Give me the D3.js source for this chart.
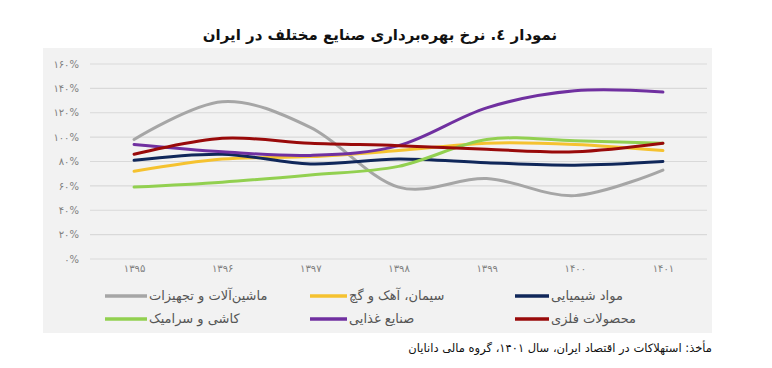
<!DOCTYPE html>
<html>
<head>
<meta charset="utf-8">
<script src="https://cdn.jsdelivr.net/npm/d3@7"></script>
<style>
  html, body { margin: 0; padding: 0; background: #ffffff; }
  svg { display: block; font-family: "DejaVu Sans", "Noto Sans", sans-serif; }
</style>
</head>
<body>
<svg id="chart" width="772" height="368"></svg>
<script>
const years = ["1395", "1396", "1397", "1398", "1399", "1400", "1401"];
const yearLabels = ["۱۳۹۵", "۱۳۹۶", "۱۳۹۷", "۱۳۹۸", "۱۳۹۹", "۱۴۰۰", "۱۴۰۱"];
const yTicks = [0, 20, 40, 60, 80, 100, 120, 140, 160];
const yTickLabels = ["۰%", "۲۰%", "۴۰%", "۶۰%", "۸۰%", "۱۰۰%", "۱۲۰%", "۱۴۰%", "۱۶۰%"];

const seriesNames = ["ماشین‌آلات و تجهیزات", "سیمان، آهک و گچ", "مواد شیمیایی", "کاشی و سرامیک", "صنایع غذایی", "محصولات فلزی"];
const seriesColors = ["#a6a6a6", "#f5c230", "#10275a", "#92d050", "#7030a0", "#990a0a"];

const machinery = [98, 129, 108, 59, 66, 52, 73];
const cement    = [72, 82, 84, 89, 95, 94, 89];
const chemicals = [81, 86, 78, 82, 79, 77, 80];
const ceramic   = [59, 63, 69, 76, 98, 97, 95];
const food      = [94, 88, 85, 93, 124, 138, 137];
const metal     = [86, 99, 95, 93, 90, 88, 95];

const seriesValues = [machinery, cement, chemicals, ceramic, food, metal];

const title = "نمودار ٤. نرخ بهره‌برداری صنایع مختلف در ایران";
const source = "مأخذ: استهلاکات در اقتصاد ایران، سال ۱۴۰۱، گروه مالی دانایان";

const svg = d3.select("#chart");

// panel background
svg.append("rect").attr("x", 43).attr("y", 48).attr("width", 669).attr("height", 285).attr("fill", "#f2f2f2");

// title
svg.append("text").attr("x", 380).attr("y", 40).attr("text-anchor", "middle")
  .attr("font-size", 15).attr("font-weight", "bold").attr("fill", "#111").text(title);

const x = d3.scalePoint().domain(years).range([90, 707]).padding(0.5);
const y = d3.scaleLinear().domain([0, 160]).range([259, 64]);

// gridlines
svg.append("g").selectAll("line").data(yTicks).join("line")
  .attr("x1", 90).attr("x2", 707)
  .attr("y1", d => y(d)).attr("y2", d => y(d))
  .attr("stroke", "#d9d9d9").attr("stroke-width", 1.2);

// y axis labels
const yAxis = d3.axisLeft(y).tickValues(yTicks).tickSize(0).tickPadding(0)
  .tickFormat((d, i) => yTickLabels[i]);
const gy = svg.append("g").attr("transform", "translate(79,0)").call(yAxis);
gy.select(".domain").remove();
gy.selectAll("text").attr("font-size", 10).attr("fill", "#808080").attr("font-family", "DejaVu Sans, sans-serif");

// x axis labels
const xAxis = d3.axisBottom(x).tickSize(0).tickPadding(0).tickFormat((d, i) => yearLabels[i]);
const gx = svg.append("g").attr("transform", "translate(0,265)").call(xAxis);
gx.select(".domain").remove();
gx.selectAll("text").attr("font-size", 10).attr("fill", "#808080").attr("font-family", "DejaVu Sans, sans-serif");

// lines
const line = d3.line().x((d, i) => x(years[i])).y(d => y(d)).curve(d3.curveCardinal.tension(0));
const drawOrder = [0, 1, 2, 3, 4, 5];
svg.append("g").selectAll("path").data(drawOrder).join("path")
  .attr("d", k => line(seriesValues[k]))
  .attr("fill", "none")
  .attr("stroke", k => seriesColors[k])
  .attr("stroke-width", 3)
  .attr("stroke-linejoin", "round")
  .attr("stroke-linecap", "round");

// legend
const legendCols = [105, 310, 515];
const legendLen = [42, 37, 34];
const legendRows = [296, 319];
const legendItems = [
  {k: 0, c: 0, r: 0}, {k: 1, c: 1, r: 0}, {k: 2, c: 2, r: 0},
  {k: 3, c: 0, r: 1}, {k: 4, c: 1, r: 1}, {k: 5, c: 2, r: 1}
];
const lg = svg.append("g").selectAll("g").data(legendItems).join("g");
lg.append("line")
  .attr("x1", d => legendCols[d.c]).attr("x2", d => legendCols[d.c] + legendLen[d.c])
  .attr("y1", d => legendRows[d.r]).attr("y2", d => legendRows[d.r])
  .attr("stroke", d => seriesColors[d.k]).attr("stroke-width", 3.5);
lg.append("text")
  .attr("x", d => legendCols[d.c] + legendLen[d.c] + 2)
  .attr("y", d => legendRows[d.r] + 4)
  .attr("text-anchor", "start")
  .attr("font-size", 13).attr("fill", "#555")
  .text(d => seriesNames[d.k]);

// source
svg.append("text").attr("x", 712).attr("y", 352).attr("text-anchor", "end")
  .attr("font-size", 11.5).attr("fill", "#111").text(source);
</script>
</body>
</html>
